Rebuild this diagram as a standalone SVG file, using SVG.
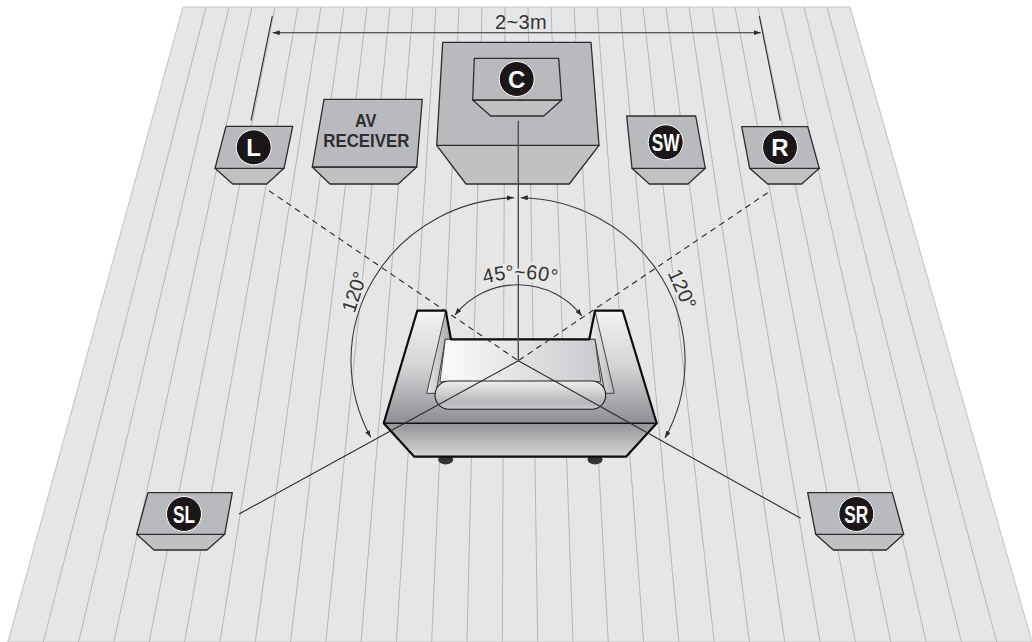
<svg xmlns="http://www.w3.org/2000/svg" width="1032" height="642" viewBox="0 0 1032 642">
<style>
.floor{fill:#e6e6e6;stroke:#c8c8c8;stroke-width:1.2}
.board{stroke:#b0b0b0;stroke-width:.9;fill:none}
.top{fill:#b9babd;stroke:#2c2c2e;stroke-width:1.3;stroke-linejoin:round}
.low{fill:#c0c1c3;stroke:#2c2c2e;stroke-width:1.3;stroke-linejoin:round}
.dot{fill:#1b1718;stroke:#fff;stroke-width:1}
.badge{font-family:"Liberation Sans",Arial,sans-serif;font-weight:700;font-size:24px;fill:#fff;text-anchor:middle}
.av{font-family:"Liberation Sans",Arial,sans-serif;font-weight:700;font-size:19px;fill:#2e2e30;text-anchor:middle}
.line{stroke:#2a2a2c;stroke-width:1.1;fill:none}
.dash{stroke-dasharray:6 4.5}
.gline{stroke:#4e4e50;stroke-width:1.4;fill:none}
.arc{stroke:#3a3a3c;stroke-width:1.1;fill:none;marker-start:url(#ah);marker-end:url(#ah)}
.lab{font-family:"Liberation Sans",Arial,sans-serif;font-size:20px;fill:#333;paint-order:stroke;stroke:#e8e8e8;stroke-width:5px;stroke-linejoin:round}
.sofa{stroke:#0c0c0c;stroke-width:2.2;stroke-linejoin:round}
</style>
<defs>
<marker id="ah" markerUnits="userSpaceOnUse" markerWidth="8" markerHeight="6" refX="7" refY="2.5" orient="auto-start-reverse"><path d="M0 0L7 2.5L0 5Z" fill="#2a2a2c"/></marker>
<linearGradient id="gArm" gradientUnits="userSpaceOnUse" x1="0" y1="311" x2="0" y2="423"><stop offset="0" stop-color="#f2f3f3"/><stop offset=".5" stop-color="#d2d3d5"/><stop offset="1" stop-color="#8e8f92"/></linearGradient>
<linearGradient id="gBase" gradientUnits="userSpaceOnUse" x1="0" y1="423" x2="0" y2="457"><stop offset="0" stop-color="#929396"/><stop offset="1" stop-color="#d6d7d8"/></linearGradient>
<linearGradient id="gBack" gradientUnits="userSpaceOnUse" x1="445" y1="0" x2="600" y2="0"><stop offset="0" stop-color="#f9fafa"/><stop offset="1" stop-color="#c9cacd"/></linearGradient>
<linearGradient id="gCush" gradientUnits="userSpaceOnUse" x1="0" y1="381" x2="0" y2="409"><stop offset="0" stop-color="#eeefef"/><stop offset=".75" stop-color="#b6b7ba"/><stop offset="1" stop-color="#c6c7c9"/></linearGradient>
<linearGradient id="gInL" gradientUnits="userSpaceOnUse" x1="427" y1="0" x2="451" y2="0"><stop offset="0" stop-color="#e8e9ea"/><stop offset="1" stop-color="#a5a6a9"/></linearGradient>
<linearGradient id="gInR" gradientUnits="userSpaceOnUse" x1="589" y1="0" x2="614" y2="0"><stop offset="0" stop-color="#f0f1f1"/><stop offset="1" stop-color="#b5b6b9"/></linearGradient>
</defs>
<g id="floor">
<path class="floor" d="M183 7H850L1032 642H8Z"/>
<path class="board" d="M206 7L43.3 642M229 7L78.6 642M252 7L113.9 642M275 7L149.2 642M298 7L184.6 642M321 7L219.9 642M344 7L255.2 642M367 7L290.5 642M390 7L325.8 642M413 7L361.1 642M436 7L396.4 642M459 7L431.7 642M482 7L467 642M505 7L502.3 642M528 7L537.7 642M551 7L573 642M574 7L608.3 642M597 7L643.6 642M620 7L678.9 642M643 7L714.2 642M666 7L749.5 642M689 7L784.8 642M712 7L820.1 642M735 7L855.4 642M758 7L890.8 642M781 7L926.1 642M804 7L961.4 642M827 7L996.7 642"/>
</g>
<g id="L">
<path class="low" d="M215 168.3H284L266.7 184H232.7Z"/>
<path class="top" d="M226 126.3H292.7L284 168.3H215Z"/>
<circle class="dot" cx="253.7" cy="147.3" r="17.5"/>
<text class="badge" x="253.7" y="155.8">L</text>
</g>
<g id="av-receiver">
<path class="low" d="M312.3 167H416.7L398.3 184H330Z"/>
<path class="top" d="M324 99.3H422.3L416.7 167H312.3Z"/>
<text class="av" x="365.7" y="126.7" textLength="21.5" lengthAdjust="spacingAndGlyphs">AV</text>
<text class="av" x="366.3" y="146.7" textLength="86" lengthAdjust="spacingAndGlyphs">RECEIVER</text>
</g>
<g id="C">
<path class="low" d="M436.7 145.3H599L569.3 184H466Z"/>
<path class="top" d="M442.7 42.3H591L599 145.3H436.7Z"/>
<path class="low" d="M472.7 100H561.7L543.7 116H490.7Z"/>
<path class="top" d="M474.3 58.3H558.7L561.7 100H472.7Z"/>
<circle class="dot" cx="516.7" cy="79" r="17.5"/>
<text class="badge" x="516.7" y="87.5">C</text>
</g>
<g id="SW">
<path class="low" d="M632 168.3H705.3L688 184H649.3Z"/>
<path class="top" d="M626.7 116H695.7L705.3 168.3H632Z"/>
<circle class="dot" cx="665.7" cy="142.3" r="17.5"/>
<text class="badge" x="665.7" y="150.8" textLength="28" lengthAdjust="spacingAndGlyphs">SW</text>
</g>
<g id="R">
<path class="low" d="M749.7 168.3H819.3L801.7 184H767.7Z"/>
<path class="top" d="M741.7 126.7H807.7L819.3 168.3H749.7Z"/>
<circle class="dot" cx="780" cy="147.3" r="17.5"/>
<text class="badge" x="780" y="155.8">R</text>
</g>
<g id="SL">
<path class="low" d="M136.7 534.3H224.7L207 550H154Z"/>
<path class="top" d="M148 492.7H232.3L224.7 534.3H136.7Z"/>
<circle class="dot" cx="184" cy="514" r="17.5"/>
<text class="badge" x="184" y="522.5" textLength="22" lengthAdjust="spacingAndGlyphs">SL</text>
</g>
<g id="SR">
<path class="low" d="M815.7 534.3H903.7L886.3 550H833.3Z"/>
<path class="top" d="M807.7 492.7H892.3L903.7 534.3H815.7Z"/>
<circle class="dot" cx="856.3" cy="514" r="17.5"/>
<text class="badge" x="856.3" y="522.5" textLength="24" lengthAdjust="spacingAndGlyphs">SR</text>
</g>
<g id="sofa">
<ellipse cx="445.7" cy="459.5" rx="7.5" ry="5" fill="#333"/>
<ellipse cx="595" cy="459.5" rx="7.5" ry="5" fill="#333"/>
<path d="M417.3 310.7H445.7L451 339.3H589.3L595 310.7H622.7L656.7 423.3H383.7Z" fill="url(#gArm)"/>
<path d="M383.7 423.3H656.7L626 456.7H414.3Z" fill="url(#gBase)"/>
<path d="M445.7 310.7L426.7 393.3H436L445.3 339.3H451Z" fill="url(#gInL)" stroke="#333" stroke-width=".9"/>
<path d="M595 310.7L614.3 393.3H605L595 339.3H589.3Z" fill="url(#gInR)" stroke="#333" stroke-width=".9"/>
<path d="M445.3 339.3H595L600.7 381.7H440Z" fill="url(#gBack)" stroke="#333" stroke-width=".9"/>
<rect x="435" y="381" width="170.7" height="28.3" rx="14" fill="url(#gCush)" stroke="#1c1c1c" stroke-width="1.1"/>
<path class="sofa" fill="none" d="M451 339.3H589.3L595 310.7H622.7L656.7 423.3L626 456.7H414.3L383.7 423.3L417.3 310.7H445.7Z"/>
<path d="M383.7 423.3H656.7" stroke="#111" stroke-width="1.4"/>
</g>
<g id="connectors">
<path class="line" stroke-width="1.4" d="M251 120.7L272.3 16M780.3 120.7L759.3 16"/>
<path class="line" d="M272.7 32.7H760.7" style="marker-start:url(#ah);marker-end:url(#ah)"/>
<path class="gline" d="M518.3 120.7V360.7"/>
<path class="line dash" d="M269 190.7L518.3 360.7"/>
<path class="line dash" d="M767.7 192.7L518.3 360.7"/>
<path class="line" d="M518.3 360.7L800.7 518.3"/>
<path class="line" d="M518.3 360.7L239 514"/>
<path class="arc" d="M514 197.7A167.6 163 0 0 0 370.7 437.3"/>
<path class="arc" d="M520.7 197.7A167.6 163 0 0 1 665 438"/>
<path class="arc" d="M455 315A79 76.4 0 0 1 581.7 316"/>
</g>
<g id="labels">
<path id="tp" d="M465 291A130 130 0 0 1 575 291" fill="none"/>
<text class="lab" text-anchor="middle"><textPath href="#tp" startOffset="50%">45°~60°</textPath></text>
<text class="lab" x="521" y="29" text-anchor="middle" letter-spacing=".4" style="stroke:none">2~3m</text>
<text class="lab" text-anchor="middle" transform="translate(361 294) rotate(-72)">120°</text>
<text class="lab" text-anchor="middle" transform="translate(676 292) rotate(66)">120°</text>
</g>
</svg>
